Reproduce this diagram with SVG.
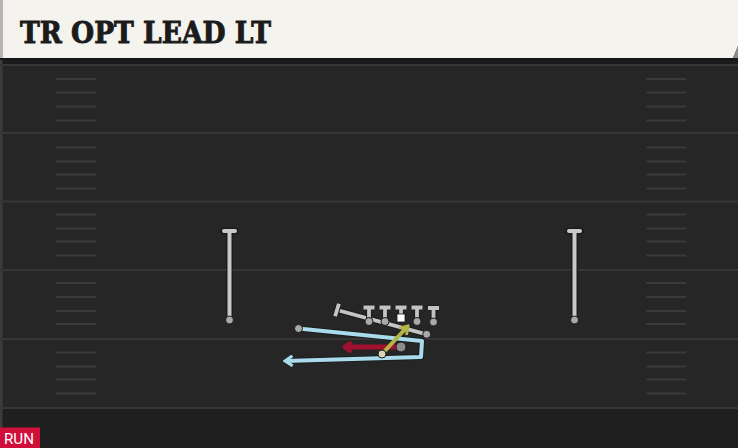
<svg xmlns="http://www.w3.org/2000/svg" width="738" height="448" viewBox="0 0 738 448">
<style>
.yard{stroke:#363636;stroke-width:2}
.hash{stroke:#3a3a3a;stroke-width:2}
.pole{stroke:#c9c9c9;stroke-width:4;stroke-linecap:round}
.poleo{stroke:#1a1a1a;stroke-width:6.5;stroke-linecap:round}
.pl{stroke:#c4c4c4;stroke-width:3.8;fill:none}
.plo{stroke:#1c1c1c;stroke-width:6;fill:none}
.dot{fill:#a9a9a9;stroke:#1c1c1c;stroke-width:1}
.route{fill:none;stroke-linejoin:round}
</style>
<defs>
<marker id="ab" viewBox="0 0 10 12" refX="8.5" refY="6" markerWidth="10" markerHeight="12" markerUnits="userSpaceOnUse" orient="auto"><path d="M1,1 L8.5,6 L1,11" fill="none" stroke="#a8dcec" stroke-width="3"/></marker>
<marker id="ar" viewBox="0 0 10 12" refX="8.5" refY="6" markerWidth="10" markerHeight="12" markerUnits="userSpaceOnUse" orient="auto"><path d="M1,1 L8.5,6 L1,11" fill="none" stroke="#a0112f" stroke-width="3.5"/></marker>
<marker id="ao" viewBox="0 0 10 12" refX="8.5" refY="6" markerWidth="10" markerHeight="12" markerUnits="userSpaceOnUse" orient="auto"><path d="M1,1 L8.5,6 L1,11" fill="none" stroke="#b4b548" stroke-width="3"/></marker>
</defs>
<rect x="0" y="0" width="738" height="448" fill="#262626"/>
<rect x="0" y="409" width="738" height="39" fill="#1f1f1f"/>
<rect x="0" y="57" width="738" height="7" fill="#1b1b1b"/>
<rect x="0" y="60" width="2.5" height="388" fill="#3c3c3c"/>
<g id="yardlines">
<line class="yard" x1="0" y1="65" x2="738" y2="65"/>
<line class="yard" x1="0" y1="133" x2="738" y2="133"/>
<line class="yard" x1="0" y1="201.5" x2="738" y2="201.5"/>
<line class="yard" x1="0" y1="270" x2="738" y2="270"/>
<line class="yard" x1="0" y1="339" x2="738" y2="339"/>
<line class="yard" x1="0" y1="408" x2="738" y2="408"/>
</g>
<g id="hashes">
<path class="hash" d="M56,79H96M56,92.5H96M56,106.5H96M56,120.5H96M56,147.5H96M56,161.5H96M56,174.5H96M56,188.5H96M56,214.5H96M56,228.5H96M56,241.5H96M56,255.5H96M56,283H96M56,297H96M56,311H96M56,324H96M56,352.5H96M56,366.5H96M56,379.5H96M56,393.5H96"/>
<path class="hash" d="M646,79H686M646,92.5H686M646,106.5H686M646,120.5H686M646,147.5H686M646,161.5H686M646,174.5H686M646,188.5H686M646,214.5H686M646,228.5H686M646,241.5H686M646,255.5H686M646,283H686M646,297H686M646,311H686M646,324H686M646,352.5H686M646,366.5H686M646,379.5H686M646,393.5H686"/>
</g>
<g id="title">
<polygon points="0,0 738,0 738,46 733,58 0,58" fill="#f5f3ed"/>
<polygon points="738,46 738,58 733,58" fill="#8a8c90"/>
<rect x="0" y="0" width="3" height="58" fill="#b4b4b4"/>
<rect x="0" y="58" width="733" height="2" fill="#141414"/>
<text x="20" y="42.5" font-family="'DejaVu Serif', serif" font-weight="bold" font-size="29" textLength="251" lengthAdjust="spacingAndGlyphs" fill="#1b1b1b" stroke="#1b1b1b" stroke-width="0.9">TR OPT LEAD LT</text>
</g>
<g id="post-left">
<line class="poleo" x1="229.5" y1="231" x2="229.5" y2="319"/>
<line class="poleo" x1="223.5" y1="231" x2="235.5" y2="231"/>
<line class="pole" x1="229.5" y1="231" x2="229.5" y2="319"/>
<line class="pole" x1="224" y1="231" x2="235" y2="231"/>
<circle cx="229.5" cy="320" r="4" class="dot"/>
</g>
<g id="post-right">
<line class="poleo" x1="574.5" y1="231" x2="574.5" y2="319"/>
<line class="poleo" x1="568.5" y1="231" x2="580.5" y2="231"/>
<line class="pole" x1="574.5" y1="231" x2="574.5" y2="319"/>
<line class="pole" x1="569" y1="231" x2="580" y2="231"/>
<circle cx="574.5" cy="320" r="4" class="dot"/>
</g>
<g id="connectors">
<path class="route" d="M298.5,328.5 L422,341 L421,357 L284,361" stroke="#1c1c1c" stroke-width="6"/>
<path class="route" d="M298.5,328.5 L422,341 L421,357 L285,361" stroke="#a8dcec" stroke-width="4" marker-end="url(#ab)"/>
<line x1="426.7" y1="334.3" x2="337" y2="310" class="plo"/>
<line x1="426.7" y1="334.3" x2="337" y2="310" class="pl"/>
<line x1="338.9" y1="303.7" x2="335.1" y2="316.3" class="plo"/>
<line x1="338.9" y1="303.7" x2="335.1" y2="316.3" class="pl"/>
<line x1="401" y1="347" x2="344" y2="347" stroke="#a0112f" stroke-width="5" marker-end="url(#ar)"/>
<line x1="382" y1="354" x2="408" y2="326" stroke="#b4b548" stroke-width="4" marker-end="url(#ao)"/>
</g>
<g id="lt"><path class="plo" d="M363.5,307.5H374.5M369,307.5V321"/><path class="pl" d="M363.5,307.5H374.5M369,307.5V321"/><circle cx="369" cy="321.5" r="4" class="dot"/></g>
<g id="lg"><path class="plo" d="M379.5,307.5H390.5M385,307.5V321"/><path class="pl" d="M379.5,307.5H390.5M385,307.5V321"/><circle cx="385" cy="321.5" r="4" class="dot"/></g>
<g id="c"><path class="plo" d="M395.5,307.5H406.5M401,307.5V316"/><path class="pl" d="M395.5,307.5H406.5M401,307.5V316"/><rect x="397" y="314" width="8" height="8" fill="#ffffff" stroke="#1c1c1c" stroke-width="0.8"/></g>
<g id="rg"><path class="plo" d="M411.5,307.5H422.5M417,307.5V321"/><path class="pl" d="M411.5,307.5H422.5M417,307.5V321"/><circle cx="417" cy="321.5" r="4" class="dot"/></g>
<g id="rt"><path class="plo" d="M428,308H439M433.5,308V321"/><path class="pl" d="M428,308H439M433.5,308V321"/><circle cx="433.5" cy="322" r="4" class="dot"/></g>
<g id="te"><circle cx="426.7" cy="334.3" r="4" class="dot"/></g>
<g id="wr"><circle cx="298.5" cy="328.5" r="4" class="dot"/></g>
<g id="rb"><circle cx="401" cy="347" r="5" fill="#8c8c8c" stroke="#1c1c1c" stroke-width="1"/></g>
<g id="fb"><circle cx="382" cy="354" r="4" fill="#d9d8b4" stroke="#1c1c1c" stroke-width="1"/></g>
<g id="tag">
<rect x="0" y="427.5" width="40" height="20.5" fill="#d0103a"/>
<text x="4" y="444" font-family="Roboto, 'Liberation Sans', sans-serif" font-size="15" textLength="30" lengthAdjust="spacingAndGlyphs" fill="#ffffff">RUN</text>
</g>
</svg>
